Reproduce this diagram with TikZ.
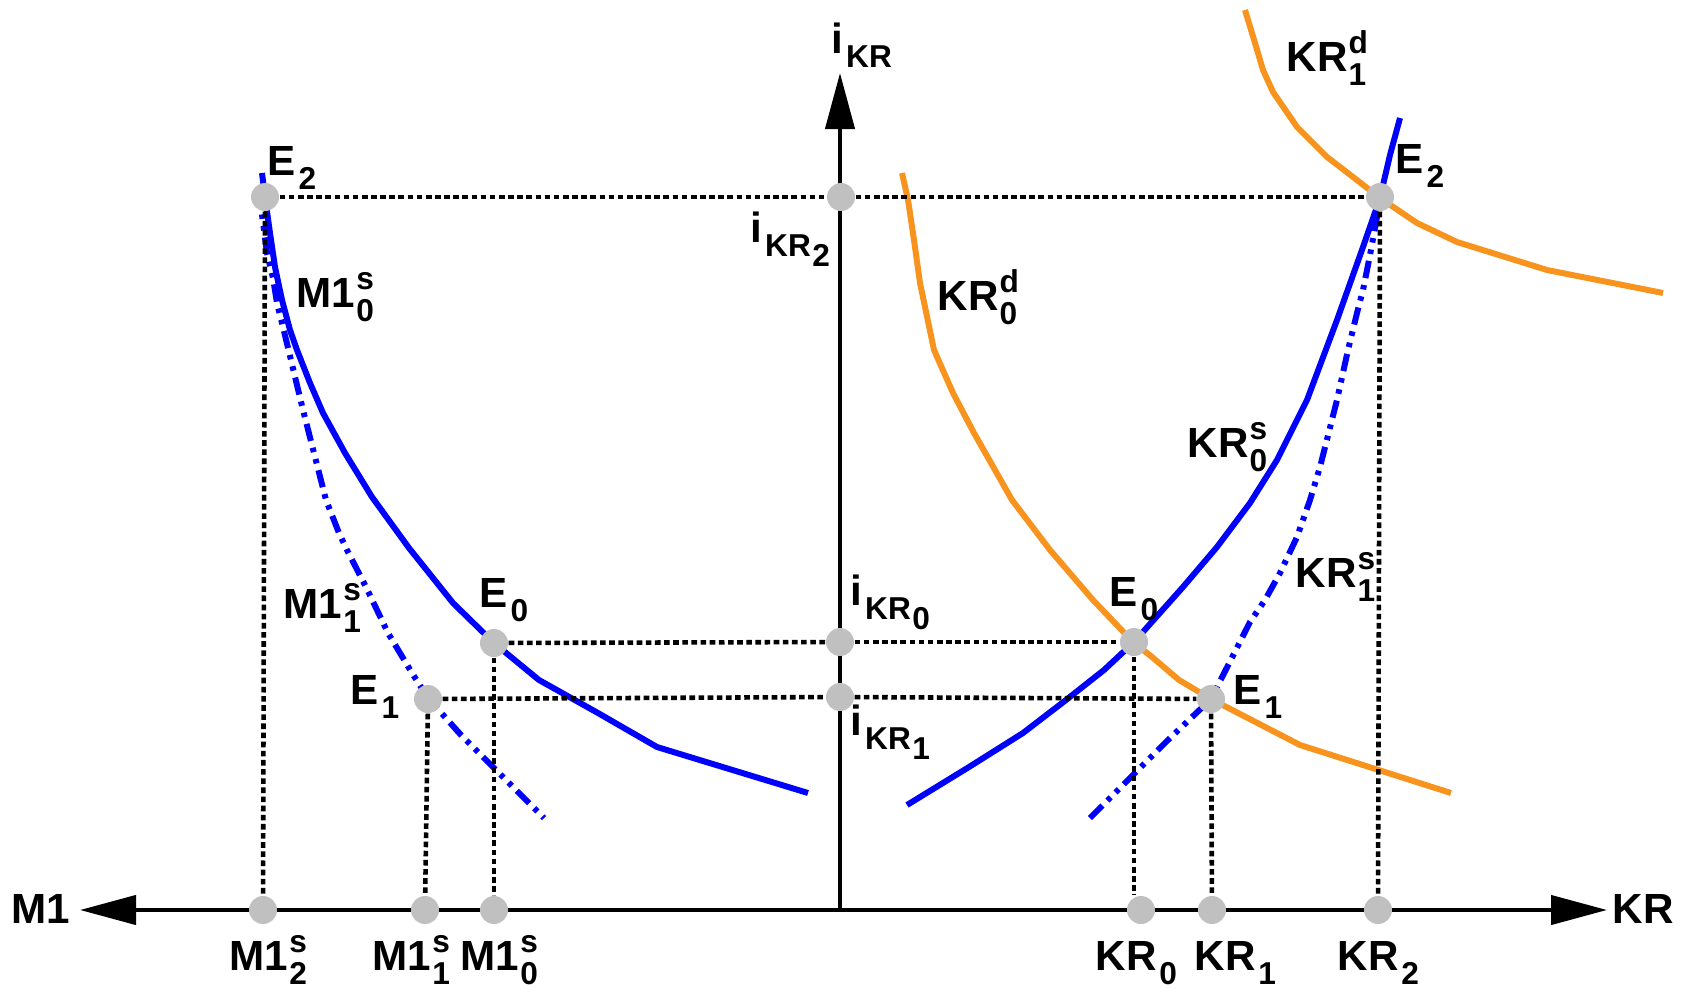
\documentclass[tikz,border=0pt]{standalone}
\usepackage{fontspec}
\setmainfont{Liberation Sans}
\usepackage{tikz}
\usetikzlibrary{arrows.meta}
\definecolor{kBlue}{RGB}{0,0,255}
\definecolor{kOrange}{RGB}{248,148,29}
\definecolor{kGray}{RGB}{192,192,192}
% super- and subscripts in text
\newcommand{\sps}[1]{\raisebox{5pt}{\fontsize{9}{9}\selectfont #1}}
\newcommand{\sbs}[1]{\kern0.8pt\raisebox{-4pt}{\fontsize{9}{9}\selectfont #1}}
\newcommand{\spsb}[2]{\kern0.3pt\makebox[0pt][l]{\sps{#1}}\raisebox{-4pt}{\fontsize{9}{9}\selectfont #2}}
\newcommand{\sbsb}[1]{\kern0.4pt\raisebox{-3pt}{#1}}

\begin{document}
\begin{tikzpicture}[x=0.1mm,y=-0.1mm,
    axis/.style={line width=1.2pt, black},
    bigtip/.tip={Triangle[length=5.6mm,width=2.9mm]},
    dot/.style={circle, fill=kGray, inner sep=0pt, minimum size=2.8mm},
    guide/.style={line width=1.3pt, dash pattern=on 1.6pt off 1pt},
    supply/.style={kBlue, line width=1.7pt, line join=round},
    shifted/.style={supply, dash pattern=on 5pt off 2pt on 1.3pt off 2pt on 1.3pt off 2pt},
    demand/.style={kOrange, line width=1.7pt, line join=round},
    lbl/.style={anchor=base west, inner sep=0pt, font=\fontsize{12}{14}\selectfont\bfseries}]
  \useasboundingbox (0,0) rectangle (1689,989);
  % Axes
  \coordinate (O) at (840,910);
  \coordinate (xl) at (80,910);
  \coordinate (xr) at (1607,910);
  \coordinate (yt) at (840,73);
  \draw[axis,{bigtip}-{bigtip}] (xl) -- (xr);
  \draw[axis,-{bigtip}] (O) -- (yt);
  % M1 supply curves
  \draw[supply] plot coordinates {(262,173) (265,197) (270,233) (275,267) (282,300) (290,330) (297,350) (310,383) (323,413) (345,453) (372,497) (409,548) (453,603) (494,643) (539,680) (598,713) (657,747) (808,793)};
  \draw[shifted] plot coordinates {(259,190) (262,215) (267,253) (273,278) (277,303) (283,327) (303,410) (326,500) (339,533) (347,550) (366,587) (388,633) (412,673) (428,698) (461,735) (496,770) (544,818)};
  % KR supply curves
  \draw[supply] plot coordinates {(907,805) (969,767) (1023,733) (1066,700) (1104,670) (1134,642) (1183,587) (1217,547) (1250,503) (1277,460) (1307,400) (1337,320) (1363,247) (1380,198) (1390,155) (1400,118)};
  \draw[shifted] plot coordinates {(1090,818) (1125,783) (1168,740) (1211,699) (1250,622) (1265,600) (1280,573) (1297,537) (1310,500) (1320,467) (1337,400) (1348,350) (1357,313) (1363,290) (1370,255) (1377,217) (1379,205)};
  % KR demand curves
  \draw[demand] plot coordinates {(902,173) (908,200) (914,240) (920,283) (934,350) (953,393) (974,433) (1012,500) (1050,550) (1093,600) (1133,642) (1152,657) (1179,680) (1211,699) (1300,745) (1451,793)};
  \draw[demand] plot coordinates {(1245,10) (1255,43) (1263,70) (1273,92) (1297,127) (1327,157) (1353,177) (1380,198) (1417,223) (1457,242) (1547,270) (1663,293)};
  % Points
  \node[dot] (E2L) at (265,197) {};
  \node[dot] (E0L) at (494,643) {};
  \node[dot] (E1L) at (428,699) {};
  \node[dot] (pI2) at (841,197) {};
  \node[dot] (pI0) at (840,642) {};
  \node[dot] (pI1) at (840,697) {};
  \node[dot] (E2R) at (1380,197) {};
  \node[dot] (E0R) at (1134,642) {};
  \node[dot] (E1R) at (1211,699) {};
  \node[dot] (pM12) at (263,910) {};
  \node[dot] (pM11) at (425,910) {};
  \node[dot] (pM10) at (494,910) {};
  \node[dot] (pKR0) at (1141,910) {};
  \node[dot] (pKR1) at (1212,910) {};
  \node[dot] (pKR2) at (1378,910) {};
  % Guide lines
  \draw[guide] (E2L) -- (pI2);
  \draw[guide] (pI2) -- (E2R);
  \draw[guide] (E0L) -- (pI0);
  \draw[guide] (pI0) -- (E0R);
  \draw[guide] (E1L) -- (pI1);
  \draw[guide] (pI1) -- (E1R);
  \draw[guide] (E2L) -- (pM12);
  \draw[guide] (E1L) -- (pM11);
  \draw[guide] (E0L) -- (pM10);
  \draw[guide] (E0R) -- (E0R |- pKR0.north);
  \draw[guide] (E1R) -- (pKR1);
  \draw[guide] (E2R) -- (pKR2);
  % Axis labels
  \node[lbl] (lI) at (831,53) {i\sbs{KR}};
  \node[lbl] (lM1) at (11,923) {M1};
  \node[lbl] (lKR) at (1612,923) {KR};
  \node[lbl] (lM12) at (229,970) {M1\spsb{s}{2}};
  \node[lbl] (lM11) at (372,970) {M1\spsb{s}{1}};
  \node[lbl] (lM10) at (460,970) {M1\spsb{s}{0}};
  \node[lbl] (lKR0) at (1095,970) {KR\sbs{0}};
  \node[lbl] (lKR1) at (1194,970) {KR\sbs{1}};
  \node[lbl] (lKR2) at (1337,970) {KR\sbs{2}};
  \node[lbl] (lI2) at (750,242) {i\sbs{KR\sbsb{2}}};
  \node[lbl] (lI0) at (850,605) {i\sbs{KR\sbsb{0}}};
  \node[lbl] (lI1) at (850,735) {i\sbs{KR\sbsb{1}}};
  % Equilibrium labels
  \node[lbl] (lE2L) at (267,175) {E\sbs{2}};
  \node[lbl] (lE0L) at (479,607) {E\sbs{0}};
  \node[lbl] (lE1L) at (350,704) {E\sbs{1}};
  \node[lbl] (lE2R) at (1395,173) {E\sbs{2}};
  \node[lbl] (lE0R) at (1109,606) {E\sbs{0}};
  \node[lbl] (lE1R) at (1233,704) {E\sbs{1}};
  % Curve labels
  \node[lbl] (lM1s0) at (296,307) {M1\spsb{s}{0}};
  \node[lbl] (lM1s1) at (283,618) {M1\spsb{s}{1}};
  \node[lbl] (lKRd0) at (937,310) {KR\spsb{d}{0}};
  \node[lbl] (lKRd1) at (1286,71) {KR\spsb{d}{1}};
  \node[lbl] (lKRs0) at (1187,457) {KR\spsb{s}{0}};
  \node[lbl] (lKRs1) at (1295,587) {KR\spsb{s}{1}};
\end{tikzpicture}
\end{document}
